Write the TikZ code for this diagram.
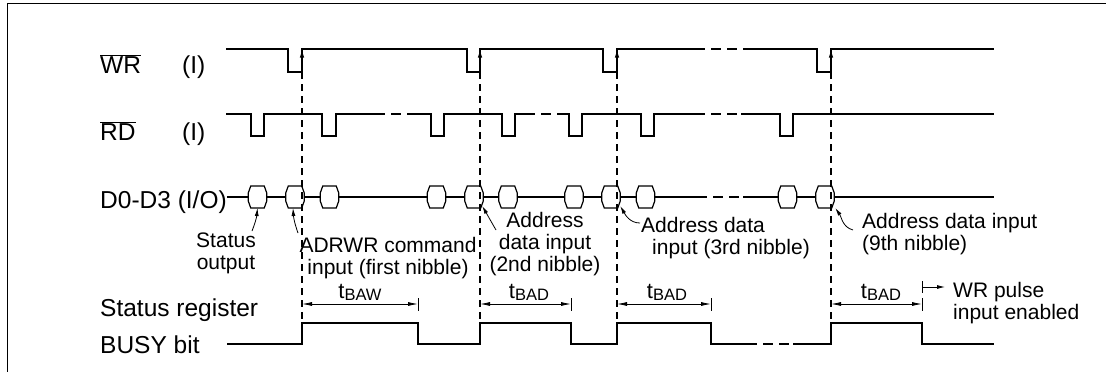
\documentclass[tikz,border=0pt]{standalone}
\usepackage{fontspec}
\setmainfont{Liberation Sans}
\usetikzlibrary{arrows.meta}
\begin{document}
\begin{tikzpicture}[x=1pt,y=-1pt,
  wave/.style={line width=1.2pt},
  dwave/.style={line width=1.2pt, dash pattern=on 10pt off 6pt},
  vguide/.style={line width=1.2pt, dash pattern=on 7pt off 5pt},
  lbl/.style={font=\fontsize{24.5}{26}\selectfont, inner sep=0pt, anchor=base west},
  ann/.style={font=\fontsize{21}{22}\selectfont, inner sep=0pt},
  tlbl/.style={font=\fontsize{22}{24}\selectfont, inner sep=0pt, anchor=base},
  hexbox/.style={minimum width=18.5pt, minimum height=22pt, inner sep=0pt, outer sep=0pt},
  dim/.style={line width=0.8pt, {Latex[length=10pt,width=4pt]}-{Latex[length=10pt,width=4pt]}},
  note/.style={line width=0.8pt, -{Latex[length=8pt,width=4pt]}},
  edgetip/.style={line width=1.2pt, -{Latex[length=8pt,width=4.5pt]}},
  tick/.style={line width=0.8pt}
]
\useasboundingbox (0,0) rectangle (1106,372);
\draw[line width=1.6pt] (7.5,372) -- (7.5,3.5) -- (1106,3.5);

% signal labels
\node[lbl] (wrl) at (100,73) {$\overline{\mbox{WR}}$};
\node[lbl] (wri) at (182,73) {(I)};
\node[lbl] (rdl) at (100,140) {$\overline{\mbox{RD}}$};
\node[lbl] (rdi) at (182,140) {(I)};
\node[lbl] (d03) at (100,208) {D0-D3 (I/O)};
\node[lbl] (str) at (100,316) {Status register};
\node[lbl] (bsy) at (100,353) {BUSY bit};

% WR
\draw[wave] (226,49) -- (288,49) -- (288,72) -- (302,72) -- (302,49) -- (467,49) -- (467,72) -- (480,72) -- (480,49) -- (603,49) -- (603,72) -- (617,72) -- (617,49) -- (695,49);
\draw[dwave] (695,49) -- (743,49);
\draw[wave] (743,49) -- (817,49) -- (817,72) -- (831,72) -- (831,49) -- (994,49);

% RD
\draw[wave] (226,114) -- (251,114) -- (251,136) -- (264,136) -- (264,114) -- (322,114) -- (322,136) -- (336,136) -- (336,114) -- (375,114);
\draw[dwave] (375,114) -- (408,114);
\draw[wave] (408,114) -- (431,114) -- (431,136) -- (444,136) -- (444,114) -- (502,114) -- (502,136) -- (515,136) -- (515,114) -- (525,114);
\draw[dwave] (525,114) -- (558,114);
\draw[wave] (558,114) -- (569,114) -- (569,136) -- (582,136) -- (582,114) -- (641,114) -- (641,136) -- (654,136) -- (654,114) -- (695,114);
\draw[dwave] (695,114) -- (741,114);
\draw[wave] (741,114) -- (780,114) -- (780,136) -- (793,136) -- (793,114) -- (994,114);

% D0-D3 bus cells
\foreach \n/\cx in {1/257.5,2/295,3/329.5,4/436.5,5/474,6/508,7/574,8/611,9/645.5,10/787.5,11/825}{
  \node[hexbox] (h\n) at (\cx,197) {};
  \draw[wave] ([xshift=2.5pt]h\n.north west) -- ([xshift=-2.5pt]h\n.north east) -- ([yshift=-7pt]h\n.north east) -- ([yshift=7pt]h\n.south east) -- ([xshift=-2.5pt]h\n.south east) -- ([xshift=2.5pt]h\n.south west) -- ([yshift=7pt]h\n.south west) -- ([yshift=-7pt]h\n.north west) -- cycle;
}
\coordinate (bd1) at (697,197);
\coordinate (bd2) at (743,197);
\coordinate (bend) at (994,197);
\draw[wave] (d03.east |- h1.west) -- (h1.west);
\draw[wave] (h1.east) -- (h2.west);
\draw[wave] (h2.east) -- (h3.west);
\draw[wave] (h3.east) -- (h4.west);
\draw[wave] (h4.east) -- (h5.west);
\draw[wave] (h5.east) -- (h6.west);
\draw[wave] (h6.east) -- (h7.west);
\draw[wave] (h7.east) -- (h8.west);
\draw[wave] (h8.east) -- (h9.west);
\draw[wave] (h9.east) -- (bd1);
\draw[dwave] (bd1) -- (bd2);
\draw[wave] (bd2) -- (h10.west);
\draw[wave] (h10.east) -- (h11.west);
\draw[wave] (h11.east) -- (bend);

% BUSY
\draw[wave] (227,344) -- (302,344) -- (302,323) -- (418,323) -- (418,344) -- (480,344) -- (480,323) -- (571,323) -- (571,344) -- (617,344) -- (617,323) -- (711,323) -- (711,344) -- (747,344);
\draw[dwave] (747,344) -- (793,344);
\draw[wave] (793,344) -- (831,344) -- (831,323) -- (922,323) -- (922,344) -- (994,344);

% guide lines and edge arrows
\foreach \x in {302,480,617,831}{
  \draw[vguide] (\x,72) -- (\x,323);
  \draw[edgetip] (\x,70) -- (\x,49.5);
}

% timing dimensions
\draw[dim] (302,304) -- (418,304);
\draw[tick] (418,298) -- (418,311);
\draw[dim] (480,304) -- (571,304);
\draw[tick] (571,298) -- (571,311);
\draw[dim] (617,304) -- (711,304);
\draw[tick] (711,298) -- (711,311);
\draw[dim] (831,304) -- (922,304);
\draw[tick] (922,298) -- (922,311);
\node[tlbl] (tbaw) at (360,298) {t\raisebox{-2pt}{\fontsize{16.5}{17}\selectfont BAW}};
\node[tlbl] (tbad1) at (529,298) {t\raisebox{-2pt}{\fontsize{16.5}{17}\selectfont BAD}};
\node[tlbl] (tbad2) at (667,298) {t\raisebox{-2pt}{\fontsize{16.5}{17}\selectfont BAD}};
\node[tlbl] (tbad3) at (881,298) {t\raisebox{-2pt}{\fontsize{16.5}{17}\selectfont BAD}};

% WR pulse enable
\draw[tick] (922,281) -- (922,293);
\coordinate (wrs) at (922,287);
\node[ann, anchor=north west, align=left] (wrp) at (953,282) {WR pulse\\input enabled};
\draw[note] (wrs) -- (945,287);

% annotations
\node[ann, anchor=north, align=center] (stat) at (226,233) {Status\\output};
\node[ann, anchor=north, align=center] (adrwr) at (388,237) {ADRWR command\\input (first nibble)};
\node[ann, anchor=north, align=center] (a2) at (545,212) {Address\\data input\\(2nd nibble)};
\node[ann, anchor=north west, align=left] (a3) at (641,217) {Address data\\\hspace*{11pt}input (3rd nibble)};
\node[ann, anchor=north west, align=left] (a9) at (862,213) {Address data input\\(9th nibble)};

\coordinate (t1) at (252,231);
\coordinate (t2) at (298,233);
\coordinate (t3) at (496,230);
\coordinate (t4) at (640,223);
\coordinate (t5) at (853,230);
\draw[note] (t1) to[bend right=8] (h1.south);
\draw[note] (t2) to[bend left=8] ([xshift=-2pt]h2.south);
\draw[note] (t3) to[out=120,in=-60] ([xshift=-1pt,yshift=2pt]h5.south east);
\draw[note] (t4) to[out=180,in=-60] ([yshift=2pt]h8.south east);
\draw[note] (t5) to[out=165,in=-55] ([xshift=1pt,yshift=0pt]h11.south east);
\end{tikzpicture}
\end{document}
